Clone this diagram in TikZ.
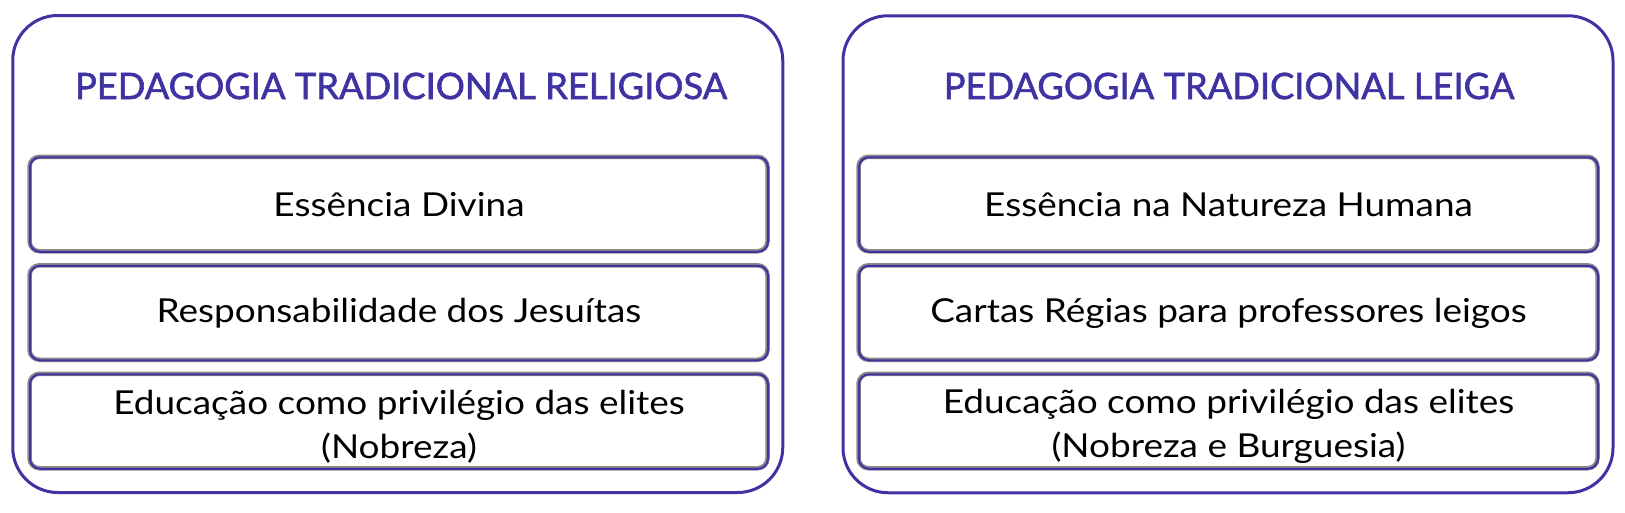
\documentclass[tikz,border=0pt]{standalone}
\usepackage{fontspec}
\setmainfont{Lato}[FakeStretch=1.12]
\newfontfamily\titlefont{Lato}[FakeBold=1.6]
\definecolor{purp}{HTML}{3F32A2}
\definecolor{shad}{HTML}{8A8A8A}
\tikzset{
  outerbox/.style={draw=purp, line width=3pt, rounded corners=45pt, inner sep=0pt, outer sep=0pt, minimum width=770pt, minimum height=477pt},
  innerbox/.style={draw=purp, line width=2pt, rounded corners=10pt, inner sep=0pt, outer sep=0pt, minimum height=94.5pt, align=center, font=\fontsize{33}{44}\selectfont, text=black,
    preaction={draw=shad, line width=4.5pt, rounded corners=11pt, transform canvas={xshift=-0.5pt,yshift=0.5pt}}},
  titletext/.style={text=purp, font=\titlefont\fontsize{36.3}{40}\selectfont, inner sep=0pt},
  twotext/.style={align=center, font=\fontsize{33}{44}\selectfont, inner sep=0pt}
}
\begin{document}
\begin{tikzpicture}[x=1pt,y=-1pt]
\useasboundingbox (0,0) rectangle (1625,512);
% left column
\node[outerbox] (L) at (397.75,254) {};
\node[titletext] (LT) at (401,86) {PEDAGOGIA TRADICIONAL RELIGIOSA};
\node[innerbox, minimum width=738pt] (L1) at (399,204.5) {Essência Divina};
\node[innerbox, minimum width=738pt] (L2) at (399,313) {Responsabilidade dos Jesuítas};
\node[innerbox, minimum width=738pt] (L3) at (399,421.5) {};
\node[twotext] (L3t) at ([yshift=-5pt]L3.center) {Educação como privilégio das elites\\(Nobreza)};
% right column
\node[outerbox] (R) at (1228,254.25) {};
\node[titletext] (RT) at (1229,86) {PEDAGOGIA TRADICIONAL LEIGA};
\node[innerbox, minimum width=739pt] (R1) at (1228.5,204.5) {Essência na Natureza Humana};
\node[innerbox, minimum width=739pt] (R2) at (1228.5,313) {Cartas Régias para professores leigos};
\node[innerbox, minimum width=739pt] (R3) at (1228.5,421.5) {};
\node[twotext] (R3t) at ([yshift=-5pt]R3.center) {Educação como privilégio das elites\\(Nobreza e Burguesia)};
\end{tikzpicture}
\end{document}
